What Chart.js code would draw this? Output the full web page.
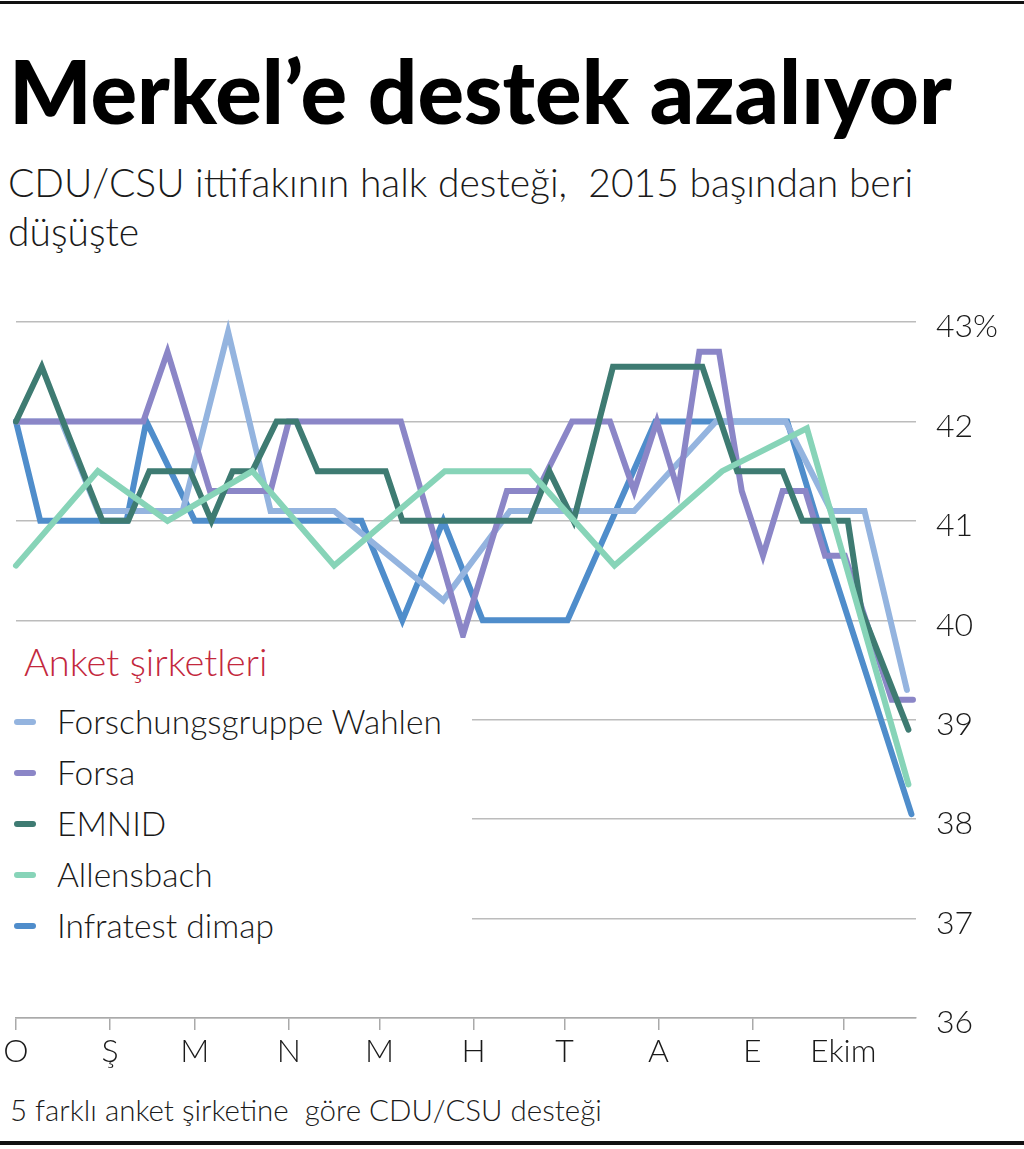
<!DOCTYPE html>
<html>
<head>
<meta charset="utf-8">
<script src="https://cdn.jsdelivr.net/npm/chart.js@4.4.1/dist/chart.umd.min.js"></script>
<style>
    body { margin: 0; background: #fff; }
    #page { position: relative; width: 1024px; height: 1149px; overflow: hidden; background: #fff; font-family: 'Lato', sans-serif; color: #1a1a1a; }
    .rule { position: absolute; left: 0; width: 1024px; background: #111; }
    #title { position: absolute; left: 9px; top: 44px; margin: 0; font-size: 87px; font-weight: 900; line-height: 94px; letter-spacing: 0; color: #000; white-space: nowrap; }
    #subtitle { position: absolute; left: 8px; top: 158px; width: 1000px; font-size: 39px; font-weight: 300; line-height: 49px; }
    #legend { position: absolute; left: 0; top: 638px; width: 472px; height: 312px; background: #fff; z-index: 2; }
    #legend .head { position: absolute; left: 24px; top: -2px; font-size: 38px; font-weight: 300; color: #c3283d; line-height: 50px; white-space: nowrap; }
    #legend .item { position: absolute; left: 0; font-size: 33.5px; font-weight: 300; line-height: 40px; }
    #legend .item i { position: absolute; left: 14px; top: 18px; width: 22px; height: 6px; border-radius: 3px; }
    #legend .item span { position: absolute; left: 57px; top: 0; white-space: nowrap; }
    #footer { position: absolute; left: 10px; top: 1090px; font-size: 29.5px; font-weight: 300; line-height: 40px; white-space: nowrap; }
    #chart { position: absolute; left: 0; top: 0; z-index: 1; }
</style>
</head>
<body>
<div id="page">
    <div class="rule" style="top:1px;height:3px"></div>
    <h1 id="title">Merkel’e destek azalıyor</h1>
    <div id="subtitle">CDU/CSU ittifakının halk desteği,&nbsp; 2015 başından beri<br>düşüşte</div>
    <canvas id="chart" width="1024" height="1149"></canvas>
    <div id="legend"><div class="head">Anket şirketleri</div></div>
    <div id="footer">5 farklı anket şirketine&nbsp; göre CDU/CSU desteği</div>
    <div class="rule" style="top:1141px;height:4px"></div>
</div>
<script>
// x values are days since 1 January 2015
const monthStartDays = [0, 31, 59, 90, 120, 151, 181, 212, 243, 273];
const monthLabels = ['O', 'Ş', 'M', 'N', 'M', 'H', 'T', 'A', 'E', 'Ekim'];
const yTicks = [36, 37, 38, 39, 40, 41, 42, 43];

const fgwDays = [0, 15, 27, 55, 70, 84, 105, 141, 163, 204, 231, 254, 269, 280, 294];
const fgwValues = [42, 42, 41.1, 41.1, 42.9, 41.1, 41.1, 40.2, 41.1, 41.1, 42, 42, 41.1, 41.1, 39.3];

const forsaDays = [0, 42, 50, 64, 84, 90, 127, 147.5, 162, 172, 183.5, 196, 204, 211.5, 218.5, 225.5, 232, 239.5, 246.5, 253, 260.5, 267, 273.5, 289, 296];
const forsaValues = [42, 42, 42.7, 41.3, 41.3, 42, 42, 39.85, 41.3, 41.3, 42, 42, 41.3, 42, 41.3, 42.7, 42.7, 41.3, 40.65, 41.3, 41.3, 40.65, 40.65, 39.2, 39.2];

const emnidDays = [0, 8.5, 15.5, 28.5, 37, 44, 57.5, 64.5, 71.5, 78, 86, 92.5, 99.5, 122, 127.5, 169.5, 176, 184, 197, 226.5, 238, 253, 259.5, 274.5, 279, 294.5];
const emnidValues = [42, 42.55, 42, 41, 41, 41.5, 41.5, 41, 41.5, 41.5, 42, 42, 41.5, 41.5, 41, 41, 41.5, 41, 42.55, 42.55, 41.5, 41.5, 41, 41, 40.1, 38.9];

const allensbachDays = [0, 27, 50, 78, 105, 141.5, 169.5, 197.5, 233, 261, 294.5];
const allensbachValues = [40.55, 41.5, 41, 41.5, 40.55, 41.5, 41.5, 40.55, 41.5, 41.93, 38.35];

const infratestDays = [0, 8, 36.5, 43, 59, 114, 127.5, 141, 154, 182, 211, 254.5, 268.5, 295.5];
const infratestValues = [42, 41, 41, 42, 41, 41, 40, 41, 40, 40, 42, 42, 40.6, 38.05];

const seriesNames = ['Forschungsgruppe Wahlen', 'Forsa', 'EMNID', 'Allensbach', 'Infratest dimap'];
const seriesColors = ['#94b4df', '#8b86c7', '#3e7b72', '#87d4b8', '#4f8dcb'];
const seriesDays = [fgwDays, forsaDays, emnidDays, allensbachDays, infratestDays];
const seriesValues = [fgwValues, forsaValues, emnidValues, allensbachValues, infratestValues];
// lower order = drawn on top
const seriesOrder = [4, 3, 2, 1, 5];

const legend = document.getElementById('legend');
seriesNames.forEach((name, i) => {
    const item = document.createElement('div');
    item.className = 'item';
    item.style.top = (63 + i * 51) + 'px';
    item.innerHTML = '<i style="background:' + seriesColors[i] + '"></i><span>' + name + '</span>';
    legend.appendChild(item);
});

const datasets = seriesNames.map((name, i) => ({
    label: name,
    data: seriesDays[i].map((d, j) => ({ x: d, y: seriesValues[i][j] })),
    borderColor: seriesColors[i],
    backgroundColor: seriesColors[i],
    borderWidth: 6,
    borderCapStyle: 'round',
    borderJoinStyle: 'miter',
    pointRadius: 0,
    tension: 0,
    fill: false,
    clip: false,
    order: seriesOrder[i]
}));

const axisFont = { family: 'Lato', size: 32, weight: '300' };

new Chart(document.getElementById('chart').getContext('2d'), {
    type: 'line',
    data: { datasets: datasets },
    options: {
        responsive: false,
        animation: false,
        devicePixelRatio: 1,
        layout: { padding: { top: 322, left: 16, right: 0, bottom: 71 } },
        plugins: { legend: { display: false }, tooltip: { enabled: false } },
        scales: {
            x: {
                type: 'linear',
                min: 0,
                max: 297,
                afterBuildTicks: scale => {
                    scale.ticks = monthStartDays.map(v => ({ value: v }));
                },
                afterFit: scale => { scale.height = 60; },
                ticks: {
                    color: '#1a1a1a',
                    font: axisFont,
                    padding: 2,
                    maxRotation: 0,
                    autoSkip: false,
                    callback: (value, index) => monthLabels[index]
                },
                grid: { drawOnChartArea: false, drawTicks: true, tickLength: 12, color: '#aaaaaa', lineWidth: 1.5 },
                border: { display: true, color: '#aaaaaa', width: 1.5 }
            },
            y: {
                position: 'right',
                min: 36,
                max: 43,
                afterBuildTicks: scale => {
                    scale.ticks = yTicks.map(v => ({ value: v }));
                },
                afterFit: scale => { scale.width = 108; },
                ticks: {
                    color: '#1a1a1a',
                    font: axisFont,
                    padding: 20,
                    labelOffset: 5,
                    callback: value => value === 43 ? value + '%' : value
                },
                grid: { color: '#bcbcbc', lineWidth: 1.5, drawTicks: false },
                border: { display: false }
            }
        }
    }
});
</script>
</body>
</html>
